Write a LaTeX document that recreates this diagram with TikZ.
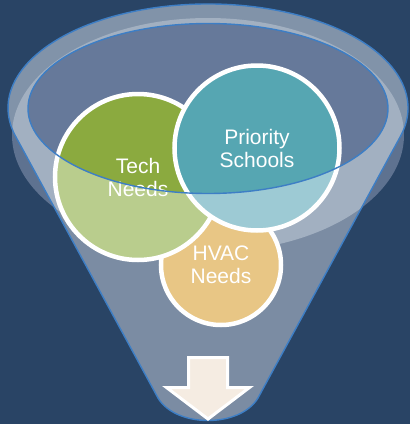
\documentclass[tikz,border=0pt]{standalone}
\usepackage{fontspec}
\setmainfont{Liberation Sans}
\definecolor{bg}{HTML}{294465}
\definecolor{midc}{HTML}{5E7290}
\definecolor{bodyc}{HTML}{7B8CA3}
\definecolor{lightc}{HTML}{A2B0C1}
\definecolor{stripc}{HTML}{8193A9}
\definecolor{innerc}{HTML}{66799A}
\definecolor{rimblue}{HTML}{3D7EC5}
\definecolor{greenA}{HTML}{8BAA3F}
\definecolor{greenB}{HTML}{B9CD8D}
\definecolor{tealA}{HTML}{56A6B2}
\definecolor{tealB}{HTML}{9DCAD4}
\definecolor{goldc}{HTML}{E8C685}
\definecolor{creamc}{HTML}{F5ECE2}
\begin{document}
\begin{tikzpicture}[x=1pt,y=-1pt,
  bubble/.style={circle, inner sep=0pt, draw=white, line width=4.5pt, text=white, align=center, font=\fontsize{21}{23}\selectfont},
  wash/.style={path picture={\begin{scope}[even odd rule]
      \clip (path picture bounding box.south west) rectangle (path picture bounding box.north east) (ein) ellipse[x radius=180, y radius=85];
      \fill[#1] (path picture bounding box.south west) rectangle (path picture bounding box.north east);
    \end{scope}}},
  rim/.style={draw=rimblue, line width=1.4pt}]
\useasboundingbox (0,0) rectangle (410,424);
\fill[bg] (0,0) rectangle (410,424);
\coordinate (ein) at (208,108.5);
\coordinate (eout) at (208,108);
\coordinate (elow) at (208,135);
% rim shadow
\fill[midc] (elow) ellipse[x radius=196, y radius=117];
% funnel body
\fill[bodyc] (15.6,136.3) arc[start angle=164.2, end angle=375.8, x radius=200, y radius=104] -- (258,398) .. controls (240,428) and (176,428) .. (158,398) -- cycle;
\fill[stripc] (eout) ellipse[x radius=200, y radius=104];
\begin{scope}
  \clip (15.6,136.3) arc[start angle=164.2, end angle=375.8, x radius=200, y radius=104] -- (258,398) .. controls (240,428) and (176,428) .. (158,398) -- cycle;
  \fill[lightc] (elow) ellipse[x radius=196, y radius=117];
\end{scope}
\fill[innerc] (ein) ellipse[x radius=180, y radius=85];
% circles
\node[bubble, fill=goldc, minimum size=120pt] (hvac) at (221,265) {HVAC\\Needs};
\node[bubble, fill=greenA, wash=greenB, minimum size=166pt] (tech) at (138,177) {Tech\\Needs};
\node[bubble, fill=tealA, wash=tealB, minimum size=165pt] (prio) at (257,148) {Priority\\Schools};
% outlines
\draw[rim] (ein) ellipse[x radius=180, y radius=85];
\draw[rim] (15.6,136.3) arc[start angle=164.2, end angle=375.8, x radius=200, y radius=104] -- (258,398) .. controls (240,428) and (176,428) .. (158,398) -- cycle;
% arrow
\draw[white, line width=3pt, fill=creamc, miter limit=10] (188.5,357.5) -- (227.5,357.5) -- (227.5,387.5) -- (249.5,387.5) -- (208,419) -- (166.5,387.5) -- (188.5,387.5) -- cycle;
\end{tikzpicture}
\end{document}
